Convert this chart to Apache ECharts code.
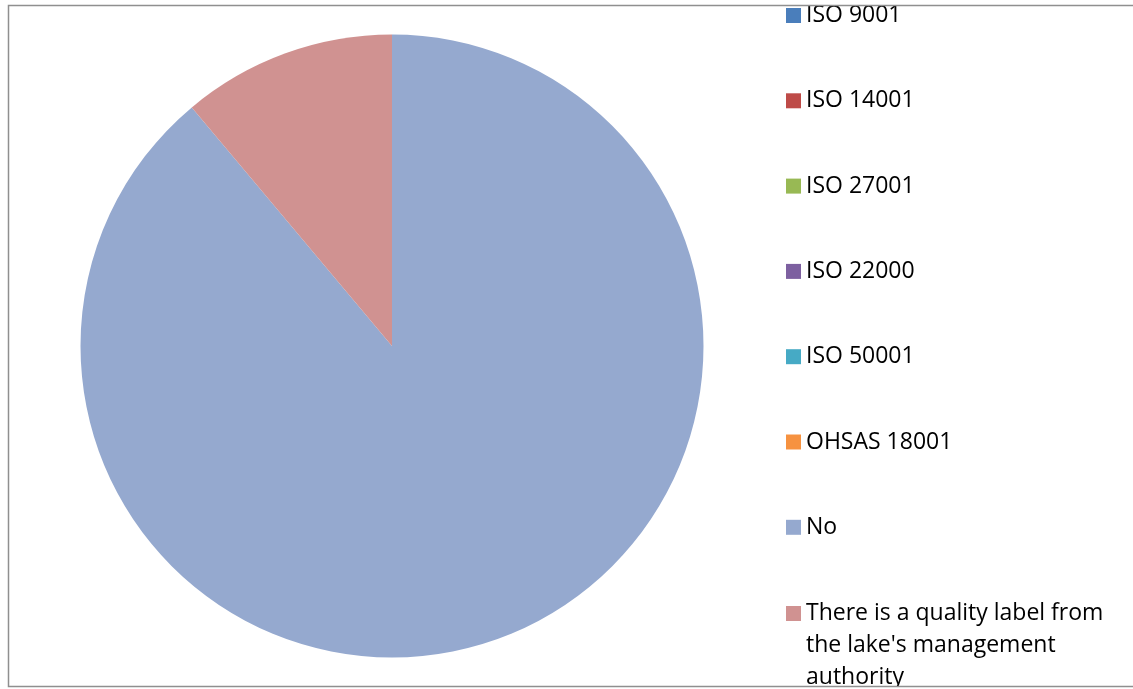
<!DOCTYPE html>
<html>
<head>
<meta charset="utf-8">
<title>Quality labels</title>
<script src="https://cdn.jsdelivr.net/npm/echarts@6/dist/echarts.min.js"></script>
<style>
  html, body { margin: 0; padding: 0; background: #ffffff; }
  #chart { width: 1133px; height: 689px; }
</style>
</head>
<body>
<div id="chart"></div>
<script>
// Certification / label categories and answer counts
const categories = [
  'ISO 9001',
  'ISO 14001',
  'ISO 27001',
  'ISO 22000',
  'ISO 50001',
  'OHSAS 18001',
  'No',
  "There is a quality label from the lake's management authority"
];
const counts = [0, 0, 0, 0, 0, 0, 8, 1];
const colors = ['#4A7EBB', '#BE4B48', '#98B954', '#7D60A0', '#46AAC5', '#F69240', '#95A9CF', '#D09291'];

const fontFamily = '"Open Sans", "Noto Sans", sans-serif';
const legendText = { fontFamily: fontFamily, fontSize: 23, color: '#000000', lineHeight: 32 };

const pieData = categories.map((name, i) => ({
  name: name,
  value: counts[i],
  itemStyle: { color: colors[i] }
}));

const chart = echarts.init(document.getElementById('chart'), null, { renderer: 'canvas' });

chart.setOption({
  animation: false,
  backgroundColor: '#ffffff',
  legend: [
    {
      orient: 'vertical',
      left: 786,
      top: -0.5,
      padding: 0,
      itemWidth: 15,
      itemHeight: 15,
      itemGap: 53.3,
      itemTextGap: 8,
      icon: 'rect',
      selectedMode: false,
      data: categories.slice(0, 7),
      textStyle: legendText
    },
    {
      // long label: wrapped, first line kept level with its marker
      orient: 'vertical',
      left: 786,
      top: 533.5,
      padding: 0,
      itemWidth: 15,
      itemHeight: 15,
      itemTextGap: 8,
      icon: 'rect',
      selectedMode: false,
      data: categories.slice(7),
      formatter: name => '\n\n' + name,
      textStyle: Object.assign({}, legendText, {
        width: 320,
        overflow: 'break'
      })
    }
  ],
  series: [
    {
      type: 'pie',
      center: [392, 346],
      radius: 311.5,
      startAngle: 90,
      clockwise: true,
      avoidLabelOverlap: false,
      label: { show: false },
      labelLine: { show: false },
      emphasis: { disabled: true },
      itemStyle: { borderWidth: 0 },
      data: pieData
    }
  ],
  graphic: [
    {
      // strip below the frame: content is cut off at the frame's bottom edge
      type: 'rect',
      silent: true,
      shape: { x: 0, y: 686.5, width: 1133, height: 3 },
      style: { fill: '#ffffff' },
      z: 99
    },
    {
      type: 'rect',
      silent: true,
      shape: { x: 8.5, y: 5.5, width: 1200, height: 681 },
      style: { fill: null, stroke: '#8f8f8f', lineWidth: 1.5 },
      z: 100
    }
  ]
});
</script>
</body>
</html>
